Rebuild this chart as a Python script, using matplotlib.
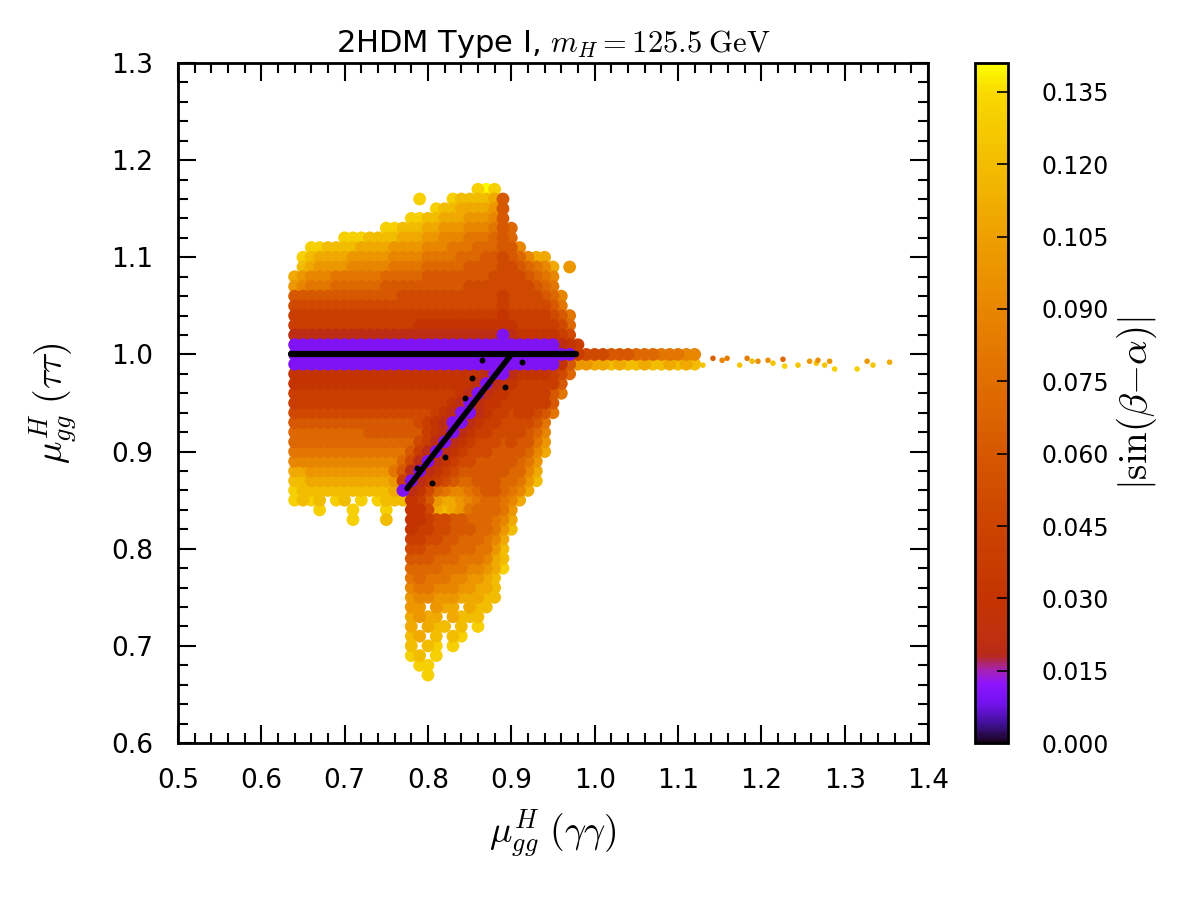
import numpy as np
import matplotlib
matplotlib.use("Agg")
import matplotlib.pyplot as plt
from matplotlib.colors import LinearSegmentedColormap
from matplotlib.ticker import MultipleLocator, FormatStrFormatter

plt.rcParams['mathtext.fontset'] = 'cm'
plt.rcParams['font.family'] = ['DejaVu Sans']

# ---------------- data ----------------
# map of |sin(beta-alpha)| read on a 0.01 x 0.01 grid
# columns start at x = 0.63, rows start at y = 1.17 and go down
# char -> value: '0'..'9','A'..'E' = 0.00 .. 0.14 ; '.' = empty
grid_x0 = 0.63
grid_y0 = 1.17
grid_step = 0.01
rows = [
    "..........|..........|...DED....|......",   # 1.17
    "..........|......D...|DCCCCB6...|......",   # 1.16
    "..........|........DC|CBBBBA6...|......",   # 1.15
    "..........|.....DDCCB|BBAAA96...|......",   # 1.14
    "..........|..DDCCCBBA|AA999867..|......",   # 1.13
    ".......DDD|CCCCBBBAA9|99888767..|......",   # 1.12
    "...DDCCCCB|BBBAAAA999|888777669.|......",   # 1.11
    "..DCBBBBAA|AAA9999888|8777665679|BB....",   # 1.10
    "..CBAAAA99|9998888777|7766665567|89B.A.",   # 1.09
    ".BA9998888|8877777666|6666655556|789...",   # 1.08
    ".A98887777|7766666666|6655555555|678...",   # 1.07
    ".666666666|6666555555|5555554555|5679..",   # 1.06
    ".555555555|5555555555|5555554555|5568..",   # 1.05
    ".444444444|4444444444|4444443444|44568.",   # 1.04
    ".444444444|4444443333|3333333344|44457.",   # 1.03
    ".222222222|2222222222|2222221233|33345.",   # 1.02
    ".111111111|1111111111|1111111111|111234",   # 1.01
    ".111111111|1111111111|1111111111|11111455566677788899",   # 1.00
    ".111111111|1111111111|1111111111|11136AABBCBCCBCCBCBC",   # 0.99
    ".333333333|3333333333|3333211233|33457.",   # 0.98
    ".333333333|3333333333|3332123344|4446..",   # 0.97
    ".444444444|4444444444|4321233444|4468..",   # 0.96
    ".444444444|4444444444|3212334444|446...",   # 0.95
    ".555555555|5555555543|2112344544|568...",   # 0.94
    ".666666666|6666665432|1123445555|68....",   # 0.93
    ".777777777|6666666432|1234455556|79....",   # 0.92
    ".777777777|7777775421|2345556566|8A....",   # 0.91
    ".888888888|8888864212|3455566667|9B....",   # 0.90
    ".999999999|9999752123|4556666678|A.....",   # 0.89
    ".BBAAAAAAA|AAA8621234|5666666779|B.....",   # 0.88
    ".CCBBBBBBB|BBBA412345|677666778A|C.....",   # 0.87
    ".DCCCCCCCC|CCCB123578|998766789B|......",   # 0.86
    ".DCDC.DC.D|.DCCC346AB|BA987789B.|......",   # 0.85
    "....D...D.|..D..335BC|BA87778A..|......",   # 0.84
    "........D.|..C..33455|6677789B..|......",   # 0.83
    "..........|.....34455|666778AC..|......",   # 0.82
    "..........|.....44556|677789B...|......",   # 0.81
    "..........|.....55666|77788AC...|......",   # 0.80
    "..........|.....66677|78889BC...|......",   # 0.79
    "..........|.....77778|8899ABD...|......",   # 0.78
    "..........|.....87888|99AABC....|......",   # 0.77
    "..........|.....98899|9AABBC....|......",   # 0.76
    "..........|.....A99AA|ABBBCC....|......",   # 0.75
    "..........|.....AA.AB|B.BCC.....|......",   # 0.74
    "..........|.....BABB.|BCCC......|......",   # 0.73
    "..........|.....B.BCC|.C.D......|......",   # 0.72
    "..........|.....CB.C.|CD........|......",   # 0.71
    "..........|.....C.CD.|D.........|......",   # 0.70
    "..........|.....DC.D.|..........|......",   # 0.69
    "..........|......DD..|..........|......",   # 0.68
    "..........|.......D..|..........|......",   # 0.67
]
level_chars = "0123456789ABCDE"

# sparse points of the long tail near mu(tautau) = 1
tail_x = [1.130, 1.142, 1.153, 1.159, 1.174, 1.183, 1.189, 1.196, 1.208, 1.214,
          1.226, 1.228, 1.244, 1.258, 1.266, 1.268, 1.276, 1.282, 1.288, 1.315,
          1.327, 1.334, 1.354]
tail_y = [0.989, 0.996, 0.994, 0.996, 0.989, 0.996, 0.993, 0.993, 0.994, 0.991,
          0.995, 0.988, 0.989, 0.993, 0.991, 0.994, 0.989, 0.993, 0.985, 0.985,
          0.993, 0.989, 0.992]
tail_c = [0.125, 0.065, 0.090, 0.085, 0.125, 0.085, 0.120, 0.095, 0.095, 0.125,
          0.070, 0.130, 0.125, 0.100, 0.125, 0.095, 0.125, 0.100, 0.130, 0.130,
          0.100, 0.125, 0.110]

# the sin(beta-alpha) ~ 0 points (black)
hline_x = [0.636, 0.978]
hline_y = [1.000, 1.000]
dline_x = [0.775, 0.900]
dline_y = [0.862, 1.000]
black_x = [0.865, 0.853, 0.844, 0.892, 0.820, 0.913, 0.787, 0.805]
black_y = [0.994, 0.976, 0.955, 0.966, 0.894, 0.992, 0.883, 0.868]

cbar_ticks = [0.000, 0.015, 0.030, 0.045, 0.060, 0.075, 0.090, 0.105, 0.120, 0.135]
vmax = 0.141

# ---------------- colormap ----------------
cmap_anchors = [
    (0.000, '#1a0520'), (0.004, '#44109e'), (0.008, '#7412ee'), (0.012, '#8c14ff'),
    (0.015, '#a822b0'), (0.018, '#b82a18'), (0.022, '#c03010'), (0.030, '#c43400'),
    (0.045, '#cc4400'), (0.060, '#d65800'), (0.075, '#e06e00'), (0.090, '#e88600'),
    (0.105, '#eea000'), (0.120, '#f2bc00'), (0.135, '#f8d800'), (0.141, '#ffff00'),
]
cmap = LinearSegmentedColormap.from_list(
    'pm', [(v / vmax, c) for v, c in cmap_anchors])

# ---------------- build cells ----------------
xs, ys, cs = [], [], []
for j, row in enumerate(rows):
    row = row.replace('|', '')
    y = grid_y0 - j * grid_step
    for i, ch in enumerate(row):
        if ch == '.':
            continue
        xs.append(grid_x0 + i * grid_step)
        ys.append(y)
        cs.append(level_chars.index(ch) * 0.01)
xs = np.array(xs); ys = np.array(ys); cs = np.array(cs)
order = np.argsort(-cs, kind='stable')

# ---------------- figure ----------------
fig = plt.figure(figsize=(12, 9), dpi=100)
ax = fig.add_axes([0.1483, 0.1744, 0.625, 0.7556])
cax = fig.add_axes([0.8125, 0.1744, 0.0275, 0.7556])

sc = ax.scatter(xs[order], ys[order], c=cs[order], cmap=cmap, vmin=0, vmax=vmax,
                s=85, marker='o', linewidths=0, zorder=2)
ax.scatter(tail_x, tail_y, c=tail_c, cmap=cmap, vmin=0, vmax=vmax,
           s=16, marker='o', linewidths=0, zorder=2)
ax.plot(hline_x, hline_y, color='black', lw=4.5, solid_capstyle='round', zorder=3)
ax.plot(dline_x, dline_y, color='black', lw=4.0, solid_capstyle='round', zorder=3)
ax.scatter(black_x, black_y, color='black', s=18, linewidths=0, zorder=3)

ax.set_xlim(0.5, 1.4)
ax.set_ylim(0.6, 1.3)
ax.xaxis.set_major_locator(MultipleLocator(0.1))
ax.xaxis.set_minor_locator(MultipleLocator(0.02))
ax.yaxis.set_major_locator(MultipleLocator(0.1))
ax.yaxis.set_minor_locator(MultipleLocator(0.02))
ax.xaxis.set_major_formatter(FormatStrFormatter('%.1f'))
ax.yaxis.set_major_formatter(FormatStrFormatter('%.1f'))
ax.tick_params(which='both', direction='in', top=True, right=True, width=1.5)
ax.tick_params(which='major', length=13, labelsize=19, pad=18)
ax.tick_params(which='minor', length=7)
for sp in ax.spines.values():
    sp.set_linewidth(2)

ax.set_title(r'2HDM Type I, $m_H =125.5\;\mathrm{GeV}$', fontsize=22, pad=8)
ax.set_xlabel(r'$\mu_{gg}^{H}\ (\gamma\gamma)$', fontsize=27, labelpad=10)
ax.set_ylabel(r'$\mu_{gg}^{H}\ (\tau\tau)$', fontsize=27, labelpad=22)

cb = fig.colorbar(sc, cax=cax, ticks=cbar_ticks)
cb.ax.yaxis.set_major_formatter(FormatStrFormatter('%.3f'))
cb.outline.set_linewidth(2)
cax.tick_params(direction='in', length=8, width=1.2, labelsize=17, pad=24)
cb.set_label(r'$|\sin(\beta{-}\alpha)|$', fontsize=28, labelpad=4)

fig.savefig('out.png', dpi=100)
